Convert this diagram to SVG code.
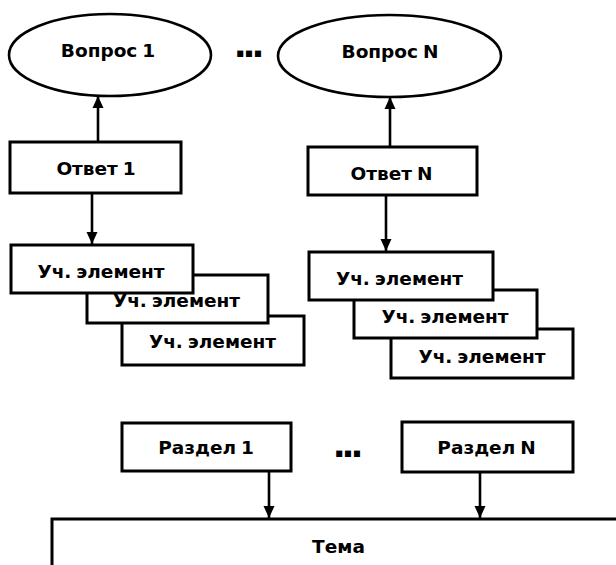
<svg xmlns="http://www.w3.org/2000/svg" width="616" height="565" viewBox="0 0 616 565">
<style>
  .shape { fill: #ffffff; stroke: #000000; stroke-width: 3; }
  .oval { fill: #ffffff; stroke: #000000; stroke-width: 2.6; }
  .lbl { font-family: "DejaVu Sans", "Liberation Sans", sans-serif; font-weight: bold; font-size: 18.5px; word-spacing: -1.5px; fill: #000000; text-anchor: middle; }
  .dots { font-family: "DejaVu Sans", "Liberation Sans", sans-serif; font-weight: bold; font-size: 34px; letter-spacing: -4px; fill: #000000; text-anchor: middle; }
  .conn { fill: none; stroke: #000000; stroke-width: 2.6; marker-end: url(#arrow); }
</style>
<defs>
  <marker id="arrow" viewBox="0 0 12 12" refX="12" refY="6" markerWidth="12" markerHeight="12" markerUnits="userSpaceOnUse" orient="auto">
    <path d="M0,0.5 L12,6 L0,11.5 z" fill="#000000"/>
  </marker>
</defs>
<rect x="0" y="0" width="616" height="565" fill="#ffffff"/>

<g id="vopros1">
  <ellipse class="oval" cx="110" cy="55" rx="101" ry="41"/>
  <text class="lbl" x="108" y="57">Вопрос 1</text>
</g>
<g id="dots-top">
  <text class="dots" x="247" y="57">...</text>
</g>
<g id="voprosN">
  <ellipse class="oval" cx="389.5" cy="56" rx="111.5" ry="41"/>
  <text class="lbl" x="390" y="58">Вопрос N</text>
</g>

<g id="otvet1">
  <rect class="shape" x="10" y="142" width="171" height="51"/>
  <text class="lbl" x="96" y="175">Ответ 1</text>
</g>
<g id="otvetN">
  <rect class="shape" x="308" y="147" width="169" height="48"/>
  <text class="lbl" x="391.5" y="180">Ответ N</text>
</g>

<g id="uch-left-3">
  <rect class="shape" x="122" y="316" width="182" height="49"/>
  <text class="lbl" x="212.5" y="348">Уч. элемент</text>
</g>
<g id="uch-left-2">
  <rect class="shape" x="87" y="275" width="181" height="48"/>
  <text class="lbl" x="176.5" y="307">Уч. элемент</text>
</g>
<g id="uch-left-1">
  <rect class="shape" x="11" y="245" width="182" height="48"/>
  <text class="lbl" x="101" y="278">Уч. элемент</text>
</g>

<g id="uch-right-3">
  <rect class="shape" x="391" y="329" width="182" height="49"/>
  <text class="lbl" x="482" y="363">Уч. элемент</text>
</g>
<g id="uch-right-2">
  <rect class="shape" x="354" y="290" width="183" height="48"/>
  <text class="lbl" x="445" y="323">Уч. элемент</text>
</g>
<g id="uch-right-1">
  <rect class="shape" x="309" y="252" width="184" height="48"/>
  <text class="lbl" x="399.5" y="285">Уч. элемент</text>
</g>

<g id="razdel1">
  <rect class="shape" x="122" y="423" width="169" height="48"/>
  <text class="lbl" x="206" y="454">Раздел 1</text>
</g>
<g id="dots-bottom">
  <text class="dots" x="346" y="457">...</text>
</g>
<g id="razdelN">
  <rect class="shape" x="402" y="422" width="171" height="50"/>
  <text class="lbl" x="486.5" y="454">Раздел N</text>
</g>

<g id="tema">
  <rect class="shape" x="52" y="519" width="600" height="100"/>
  <text class="lbl" x="338.5" y="553">Тема</text>
</g>

<g id="connectors">
  <line class="conn" x1="98" y1="142" x2="98" y2="96"/>
  <line class="conn" x1="92" y1="193" x2="92" y2="244"/>
  <line class="conn" x1="390" y1="147" x2="390" y2="97"/>
  <line class="conn" x1="386" y1="195" x2="386" y2="251"/>
  <line class="conn" x1="269" y1="471" x2="269" y2="518"/>
  <line class="conn" x1="480" y1="472" x2="480" y2="518"/>
</g>
</svg>
